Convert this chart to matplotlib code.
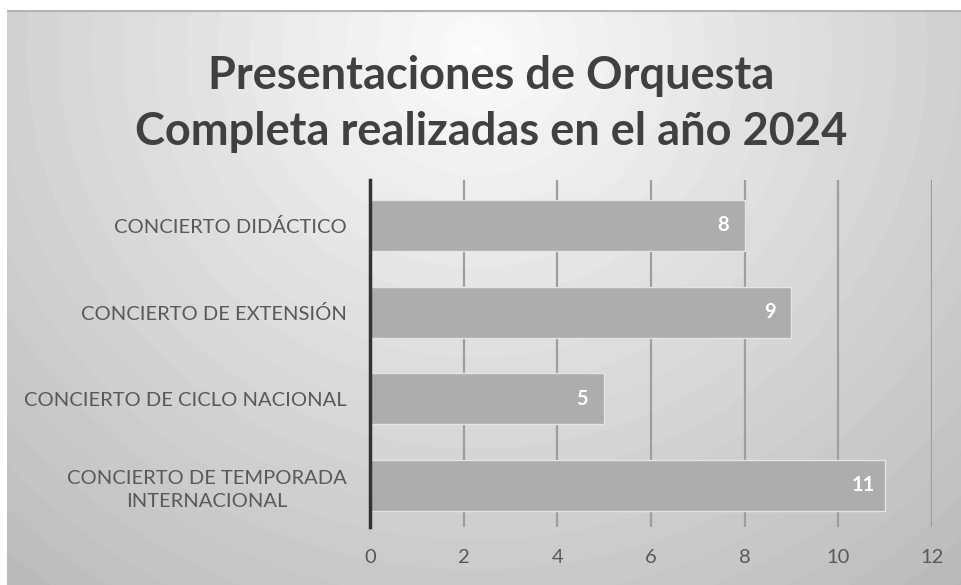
import numpy as np
import matplotlib
matplotlib.use('Agg')
import matplotlib.pyplot as plt

categories = ['CONCIERTO DE TEMPORADA\nINTERNACIONAL', 'CONCIERTO DE CICLO NACIONAL',
              'CONCIERTO DE EXTENSIÓN', 'CONCIERTO DIDÁCTICO']
values = [11, 5, 9, 8]
xticks = [0, 2, 4, 6, 8, 10, 12]
title = 'Presentaciones de Orquesta\nCompleta realizadas en el año 2024'

W, H = 962, 585
fig = plt.figure(figsize=(W / 100, H / 100), dpi=100, facecolor='white')

# radial banded background (light at top centre)
bg = fig.add_axes([7 / W, 0, 1 - 7 / W, 1 - 10 / H])
bh, bw = H - 10, W - 7
yy, xx = np.mgrid[0:bh, 0:bw]
cx, cy = 470, 40
r = np.sqrt(((xx - cx) / 1.05) ** 2 + ((yy - cy) / 1.0) ** 2) / 600.0
shade = 0.985 - 0.22 * np.clip(r, 0, 1.3)
shade = np.round(shade * 90) / 90
bg.imshow(shade, cmap='gray', vmin=0, vmax=1, aspect='auto', interpolation='bilinear',
          extent=(0, bw, bh, 0))
bg.plot([0, bw], [0.8, 0.8], color='#b4b4b4', lw=1.6)
bg.set_xlim(0, bw)
bg.set_ylim(bh, 0)
bg.axis('off')

ax = fig.add_axes([370 / W, 58 / H, 562 / W, 347 / H])
ax.patch.set_alpha(0)
ypos = np.arange(len(categories))
bars = ax.barh(ypos, values, height=0.59, color='#adadad', edgecolor='#e4e4e4', lw=1, zorder=3)
ax.set_xlim(0, 12)
ax.set_ylim(-0.48, 3.525)
ax.set_xticks(xticks)
ax.set_yticks(ypos)
ax.set_yticklabels(categories, linespacing=1.45, multialignment='center')
ax.grid(axis='x', color='#9e9e9e', lw=1.6, zorder=0)
ax.tick_params(length=0, labelsize=14.5, colors='#595959', pad=17)
ax.tick_params(axis='x', pad=16)
for lab in ax.get_yticklabels() + ax.get_xticklabels():
    lab.set_family('Lato')
for s in ['top', 'right', 'bottom']:
    ax.spines[s].set_visible(False)
ax.spines['left'].set_color('#333333')
ax.spines['left'].set_linewidth(2.5)
ax.spines['left'].set_zorder(4)

for b, v in zip(bars, values):
    ax.text(v - 0.47, b.get_y() + b.get_height() / 2, str(v), ha='center', va='center',
            color='white', fontsize=14.5, fontweight='bold', family='Lato', zorder=5)

fig.text(491 / W, 1 - 104 / H, title, ha='center', va='center', fontsize=32.5, fontweight='bold',
         color='#404040', family='Lato', linespacing=1.4)

fig.savefig('out.png', dpi=100, facecolor='white')
